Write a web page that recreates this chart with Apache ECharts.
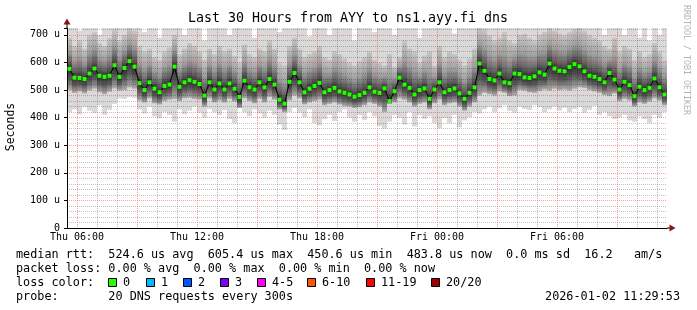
<!DOCTYPE html>
<html><head><meta charset="utf-8">
<script src="https://cdn.jsdelivr.net/npm/echarts@6/dist/echarts.min.js"></script>
<style>html,body{margin:0;padding:0;background:#fff}#c{width:697px;height:310px}</style>
</head><body><div id="c"></div><script>
// time axis: hours since Thu 00:00; plot spans Thu 05:30 .. Fri 11:30, 15-minute bins
const startHour = 5.5, endHour = 35.5, binHours = 0.25;

const median = [
 577,545,544,540,560,578,552,548,552,590,
 548,580,605,585,525,500,528,505,492,515,
 520,585,512,528,536,530,522,480,528,502,
 524,502,524,505,475,534,510,502,528,510,
 540,520,465,451,530,562,528,492,505,515,
 526,492,500,508,495,490,484,476,482,490,
 510,494,490,506,460,496,545,520,508,484,
 500,506,468,502,528,492,500,506,488,468,
 490,510,596,570,540,535,560,528,525,560,
 558,546,544,550,564,556,596,578,570,568,
 584,594,586,568,552,548,540,528,562,538,
 502,530,518,478,512,500,508,542,510,484];
const smokeMin = [
 420,430,412,440,425,418,445,410,428,450,
 470,468,475,472,430,415,440,405,398,420,
 410,385,430,412,425,440,418,400,432,420,
 410,428,395,380,440,420,405,430,415,400,
 425,410,375,355,420,435,418,402,430,380,
 372,395,410,388,420,430,400,385,410,392,
 420,405,370,360,385,410,400,375,420,368,
 410,395,405,380,362,398,380,410,365,390,
 402,420,415,430,440,420,435,445,425,418,
 440,432,428,445,438,420,430,440,426,436,
 420,432,438,418,428,442,410,420,405,395,
 400,410,390,385,405,395,380,410,400,420];
const smokeLo = [
 500,490,495,488,498,505,492,485,494,506,
 498,500,510,505,462,455,470,452,448,460,
 465,468,460,470,472,468,465,440,470,455,
 462,455,468,458,435,470,460,452,468,455,
 475,465,430,420,462,480,470,448,455,460,
 465,445,450,455,448,442,440,435,438,445,
 455,450,440,420,450,455,470,465,455,440,
 450,455,430,452,465,445,452,455,440,425,
 440,455,480,490,485,480,495,490,478,480,
 500,498,492,490,496,502,498,505,500,502,
 498,505,510,508,500,495,490,482,478,488,
 460,468,462,440,455,450,458,470,462,445];
const smokeHi = [
 690,660,680,650,700,710,670,660,690,720,
 680,700,725,715,660,640,650,620,610,640,
 655,700,630,650,670,660,640,610,650,630,
 660,640,650,625,600,665,630,620,650,640,
 680,650,600,590,660,690,650,620,630,640,
 660,620,610,640,630,615,600,590,605,620,
 640,610,600,590,630,585,620,680,650,640,
 600,625,640,590,660,620,640,630,610,590,
 615,650,725,720,700,680,690,710,680,670,
 700,705,690,680,700,710,725,715,705,700,
 710,720,725,715,700,690,680,660,650,690,
 640,660,650,610,640,620,630,670,640,610];
const smokeMax = [
 725,725,715,725,725,725,700,725,725,725,
 725,725,725,725,725,710,725,725,690,725,
 725,725,725,700,725,725,725,680,725,725,
 725,725,700,725,725,725,725,690,725,725,
 725,725,710,725,725,725,725,725,695,725,
 725,725,700,725,725,725,725,680,725,725,
 725,710,725,725,725,700,725,725,725,725,
 690,725,725,725,725,725,725,705,725,725,
 725,725,725,725,725,725,725,725,725,725,
 725,725,725,725,725,725,725,725,725,725,
 725,725,725,725,725,725,725,700,725,725,
 725,700,725,725,690,725,680,725,700,725];

const xGridStep = 0.5;   // half-hour steps from 05:30; hour lines get drawn, half-hours stay blank
const xLabelHours = [6,12,18,24,30];
const xLabelText = ['Thu 06:00','Thu 12:00','Thu 18:00','Fri 00:00','Fri 06:00'];
const yMax = 725, yMinorStep = 20;

const legendLine1 = 'median rtt:  524.6 us avg  605.4 us max  450.6 us min  483.8 us now  0.0 ms sd  16.2   am/s';
const legendLine2 = 'packet loss: 0.00 % avg  0.00 % max  0.00 % min  0.00 % now';
const lossLabels = ['0','1','2','3','4-5','6-10','11-19','20/20'];
const lossColors = ['#26ff00','#00b8ff','#0059ff','#7e00ff','#ff00ff','#ff5500','#ff0000','#a10000'];
const lossBoxX = [108,146,183,220,257,307,366,431];

const times = median.map((_, i) => startHour + (i + 0.5) * binHours);
const smokeData = times.map((t, i) => [t, smokeMin[i], smokeLo[i], smokeHi[i], smokeMax[i], median[i]]);
const medianData = times.map((t, i) => [t, median[i]]);

const MONO = '"DejaVu Sans Mono", monospace';
const chart = echarts.init(document.getElementById('c'), null, {renderer: 'canvas'});

function renderSmoke(params, api) {
  const t = api.value(0);
  const xa = Math.round(api.coord([t - binHours / 2, 0])[0]);
  const xb = Math.round(api.coord([t + binHours / 2, 0])[0]);
  const w = xb - xa;
  const yMinP = api.coord([t, api.value(1)])[1];
  const yLoP = api.coord([t, api.value(2)])[1];
  const yHiP = api.coord([t, api.value(3)])[1];
  const yMaxP = api.coord([t, api.value(4)])[1];
  const yMedP = api.coord([t, api.value(5)])[1];
  let f = (yMedP - yHiP) / (yLoP - yHiP);
  f = Math.min(0.97, Math.max(0.03, f));
  const grad = new echarts.graphic.LinearGradient(0, 0, 0, 1, [
    {offset: 0, color: '#c6c6c6'},
    {offset: f * 0.45, color: '#9e9e9e'},
    {offset: f * 0.8, color: '#5e5e5e'},
    {offset: f, color: '#2c2c2c'},
    {offset: f + (1 - f) * 0.5, color: '#5c5c5c'},
    {offset: 1, color: '#acacac'}
  ]);
  return {type: 'group', children: [
    {type: 'rect', shape: {x: xa, y: yMaxP, width: w, height: yMinP - yMaxP}, style: {fill: '#d9d9d9'}},
    {type: 'rect', shape: {x: xa, y: yHiP, width: w, height: yLoP - yHiP}, style: {fill: grad}}
  ]};
}

const gridRed = 'rgba(255,40,40,0.45)';
const gridGray = 'rgba(0,0,0,0.24)';
const none = 'rgba(0,0,0,0)';
// x split lines every 0.5 h from 05:30: 05:30 none, 06:00 red, 06:30 none, 07:00 gray, 07:30 none, 08:00 gray, ...
const xSplitColors = [none, gridRed, none, gridGray, none, gridGray];

const graphics = [];
graphics.push({type: 'line', shape: {x1: 67, y1: 28, x2: 67, y2: 23}, style: {stroke: '#000', lineWidth: 1}, z: 10});
graphics.push({type: 'polygon', shape: {points: [[67, 18.5], [63.5, 24.5], [70.5, 24.5]]}, style: {fill: '#8b1414'}, z: 10});
graphics.push({type: 'line', shape: {x1: 667, y1: 228, x2: 670, y2: 228}, style: {stroke: '#000', lineWidth: 1}, z: 10});
graphics.push({type: 'polygon', shape: {points: [[675.5, 228], [669.5, 224.5], [669.5, 231.5]]}, style: {fill: '#8b1414'}, z: 10});
graphics.push({type: 'text', x: 348, y: 19, style: {text: 'Last 30 Hours from AYY to ns1.ayy.fi dns', font: '13.3px ' + MONO, fill: '#000', textAlign: 'center', textVerticalAlign: 'middle'}});
graphics.push({type: 'text', x: 11, y: 127, rotation: Math.PI / 2, style: {text: 'Seconds', font: '11.5px ' + MONO, fill: '#000', textAlign: 'center', textVerticalAlign: 'middle'}});
graphics.push({type: 'text', x: 686, y: 60, rotation: -Math.PI / 2, style: {text: 'RRDTOOL / TOBI OETIKER', font: '8.3px ' + MONO, fill: '#b4b4b4', textAlign: 'center', textVerticalAlign: 'middle'}});
const LF = '11.8px ' + MONO;
graphics.push({type: 'text', x: 16, y: 254.5, style: {text: legendLine1, font: LF, fill: '#000', textVerticalAlign: 'middle'}});
graphics.push({type: 'text', x: 16, y: 268.5, style: {text: legendLine2, font: LF, fill: '#000', textVerticalAlign: 'middle'}});
graphics.push({type: 'text', x: 16, y: 282.5, style: {text: 'loss color:', font: LF, fill: '#000', textVerticalAlign: 'middle'}});
lossLabels.forEach((lab, i) => {
  graphics.push({type: 'rect', shape: {x: lossBoxX[i] + 0.5, y: 278.5, width: 8, height: 8}, style: {fill: lossColors[i], stroke: '#000', lineWidth: 1}});
  graphics.push({type: 'text', x: lossBoxX[i] + 15, y: 282.5, style: {text: lab, font: LF, fill: '#000', textVerticalAlign: 'middle'}});
});
graphics.push({type: 'text', x: 16, y: 296.5, style: {text: 'probe:       20 DNS requests every 300s', font: LF, fill: '#000', textVerticalAlign: 'middle'}});
graphics.push({type: 'text', x: 680, y: 296.5, style: {text: '2026-01-02 11:29:53', font: LF, fill: '#000', textAlign: 'right', textVerticalAlign: 'middle'}});

chart.setOption({
  animation: false,
  backgroundColor: '#ffffff',
  grid: {left: 67, right: 30, top: 28, bottom: 82, containLabel: false},
  xAxis: {
    type: 'value', min: startHour, max: endHour, interval: xGridStep, z: 3,
    axisLine: {show: true, onZero: false, lineStyle: {color: '#000', width: 1}},
    axisTick: {show: false},
    axisLabel: {customValues: xLabelHours, margin: 4, color: '#000', fontFamily: 'DejaVu Sans Mono', fontSize: 10,
      formatter: v => { const k = xLabelHours.indexOf(v); return k >= 0 ? xLabelText[k] : ''; }},
    splitLine: {show: true, showMinLine: true, showMaxLine: true, lineStyle: {color: xSplitColors, type: [1, 1], width: 1}}
  },
  yAxis: [{
    type: 'value', min: 0, max: yMax, interval: yMinorStep, z: 3,
    axisLine: {show: true, onZero: false, lineStyle: {color: '#000', width: 1}},
    axisTick: {show: false},
    axisLabel: {margin: 7, color: '#000', fontFamily: 'DejaVu Sans Mono', fontSize: 10, showMaxLabel: false,
      formatter: v => (v % 100 === 0 ? (v === 0 ? '0' : v + ' u') : '')},
    splitLine: {show: true, showMaxLine: false, lineStyle: {color: [gridRed, gridGray, gridGray, gridGray, gridGray], type: [1, 1], width: 1}}
  }, {
    type: 'value', min: 0, max: yMax, interval: 100, position: 'left', z: 3,
    axisLine: {show: false}, axisLabel: {show: false}, splitLine: {show: false},
    axisTick: {show: true, inside: false, length: 3, lineStyle: {color: '#000'}}
  }],
  graphic: graphics,
  series: [{
    type: 'custom', renderItem: renderSmoke, data: smokeData, z: 2, clip: true, silent: true,
    encode: {x: 0, y: [1, 4]}
  }, {
    type: 'line', data: medianData, z: 5, clip: true, silent: true,
    symbol: 'rect', symbolSize: 4, showAllSymbol: true,
    lineStyle: {color: '#000', width: 1}, itemStyle: {color: '#26ff00', borderWidth: 0}
  }]
});
</script></body></html>
